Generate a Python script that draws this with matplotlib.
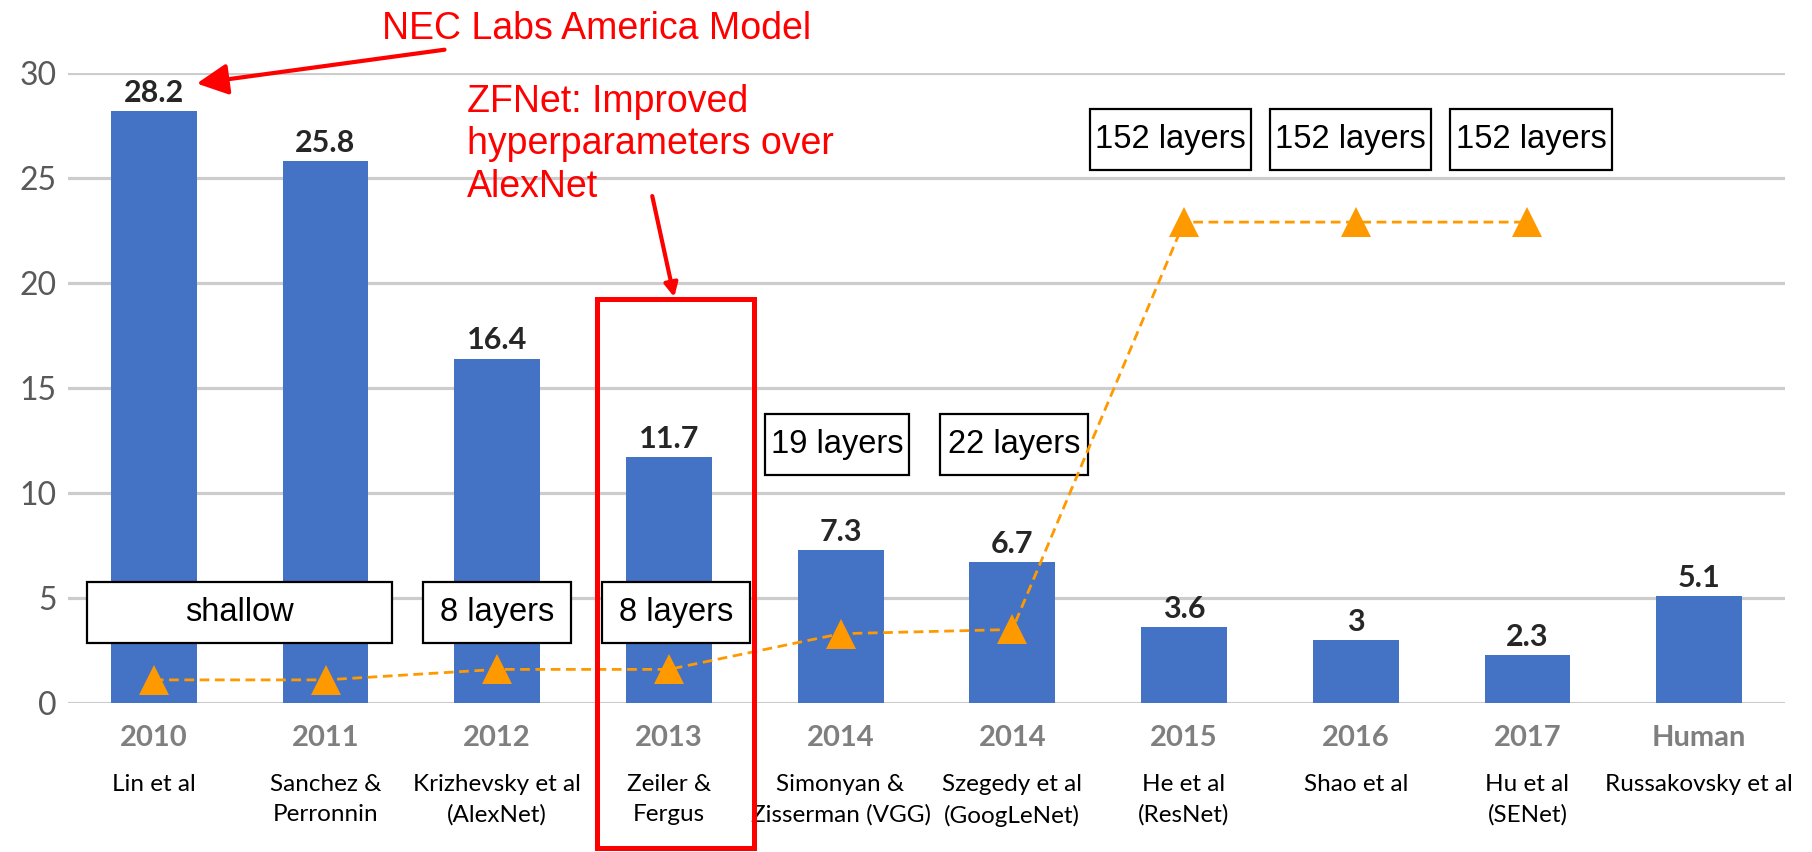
import matplotlib
matplotlib.use("Agg")
import matplotlib.pyplot as plt
from matplotlib.patches import Rectangle

# chart data
years = ["2010", "2011", "2012", "2013", "2014", "2014", "2015", "2016", "2017", "Human"]
authors = ["Lin et al", "Sanchez &\nPerronnin", "Krizhevsky et al\n(AlexNet)", "Zeiler &\nFergus",
           "Simonyan &\nZisserman (VGG)", "Szegedy et al\n(GoogLeNet)", "He et al\n(ResNet)",
           "Shao et al", "Hu et al\n(SENet)", "Russakovsky et al"]
error_rate = [28.2, 25.8, 16.4, 11.7, 7.3, 6.7, 3.6, 3.0, 2.3, 5.1]

# depth markers (in error-rate units)
depth_level = [1.1, 1.1, 1.6, 1.6, 3.3, 3.5, 22.9, 22.9, 22.9]
depth_labels = ["shallow", "8 layers", "8 layers", "19 layers", "22 layers",
                "152 layers", "152 layers", "152 layers"]

BLUE = "#4472C4"
ORANGE = "#FF9900"
RED = "#FF0000"

fig = plt.figure(figsize=(18.12, 8.52), dpi=100)
ax = fig.add_axes([0.0375, 0.1749, 0.9476, 0.7394])

x = list(range(len(years)))
bars = ax.bar(x, error_rate, width=0.5, color=BLUE, zorder=2)
ax.bar_label(bars, labels=[f"{v:g}" for v in error_rate], padding=3,
             fontsize=22, fontweight="bold", color="#262626", family="Lato")

ax.plot(x[:len(depth_level)], depth_level, color=ORANGE, lw=2, linestyle=(0, (3.5, 2)),
        marker="^", markersize=21, markeredgewidth=0, zorder=5)

ax.set_xlim(-0.5, 9.5)
ax.set_ylim(0, 30)
ax.set_yticks(range(0, 31, 5))
ax.grid(axis="y", color="#CCCCCC", lw=2.3, zorder=0)
for s in ax.spines.values():
    s.set_visible(False)
ax.tick_params(axis="y", length=0, pad=8, labelsize=23, labelcolor="#595959")
ax.set_xticks(x, years)
ax.tick_params(axis="x", length=0, pad=16, labelsize=21, labelcolor="#7F7F7F")
for lab in ax.get_xticklabels() + ax.get_yticklabels():
    lab.set_family("Lato")
for lab in ax.get_xticklabels():
    lab.set_fontweight("bold")

# author names under the years
for xi, name in zip(x, authors):
    ax.text(xi, -0.112, name, transform=ax.get_xaxis_transform(), ha="center", va="top",
            fontsize=17.5, family="Lato", color="black", linespacing=1.55, clip_on=False)

# depth boxes
box_x = [0.5, 2.0, 3.04, 3.98, 5.01, 5.92, 6.97, 8.02]
box_w = [1.78, 0.86, 0.86, 0.84, 0.86, 0.94, 0.94, 0.94]
box_y = [4.29, 4.29, 4.29, 12.29, 12.29, 26.83, 26.83, 26.83]
box_h = 2.9
for bx, bw, by, lab in zip(box_x, box_w, box_y, depth_labels):
    ax.add_patch(Rectangle((bx - bw / 2, by - box_h / 2), bw, box_h, facecolor="white",
                           edgecolor="black", lw=1.6, zorder=4, clip_on=False))
    ax.text(bx, by, lab, ha="center", va="center", fontsize=23.5, family="Liberation Sans",
            zorder=6, clip_on=False)

# ZFNet highlight
ax.add_patch(Rectangle((2.583, -6.9), 0.914, 26.14, fill=False, edgecolor=RED, lw=3.6,
                       zorder=7, clip_on=False))

ax.annotate("NEC Labs America Model", xy=(0.25, 29.5), xytext=(1.33, 32.1),
            fontsize=27, color=RED, family="Liberation Sans", ha="left", va="center",
            annotation_clip=False,
            arrowprops=dict(arrowstyle="-|>,head_length=0.7,head_width=0.35", color=RED, lw=3,
                            shrinkA=0, shrinkB=0))
ax.text(1.826, 26.6, "ZFNet: Improved\nhyperparameters over\nAlexNet", fontsize=27,
        color=RED, family="Liberation Sans", ha="left", va="center", linespacing=1.22,
        clip_on=False)
ax.annotate("", xy=(3.031, 19.33), xytext=(2.903, 24.14), annotation_clip=False,
            arrowprops=dict(arrowstyle="-|>,head_length=0.8,head_width=0.4", color=RED, lw=3,
                            shrinkA=0, shrinkB=0))

fig.savefig("out.png", dpi=100, facecolor="white")
